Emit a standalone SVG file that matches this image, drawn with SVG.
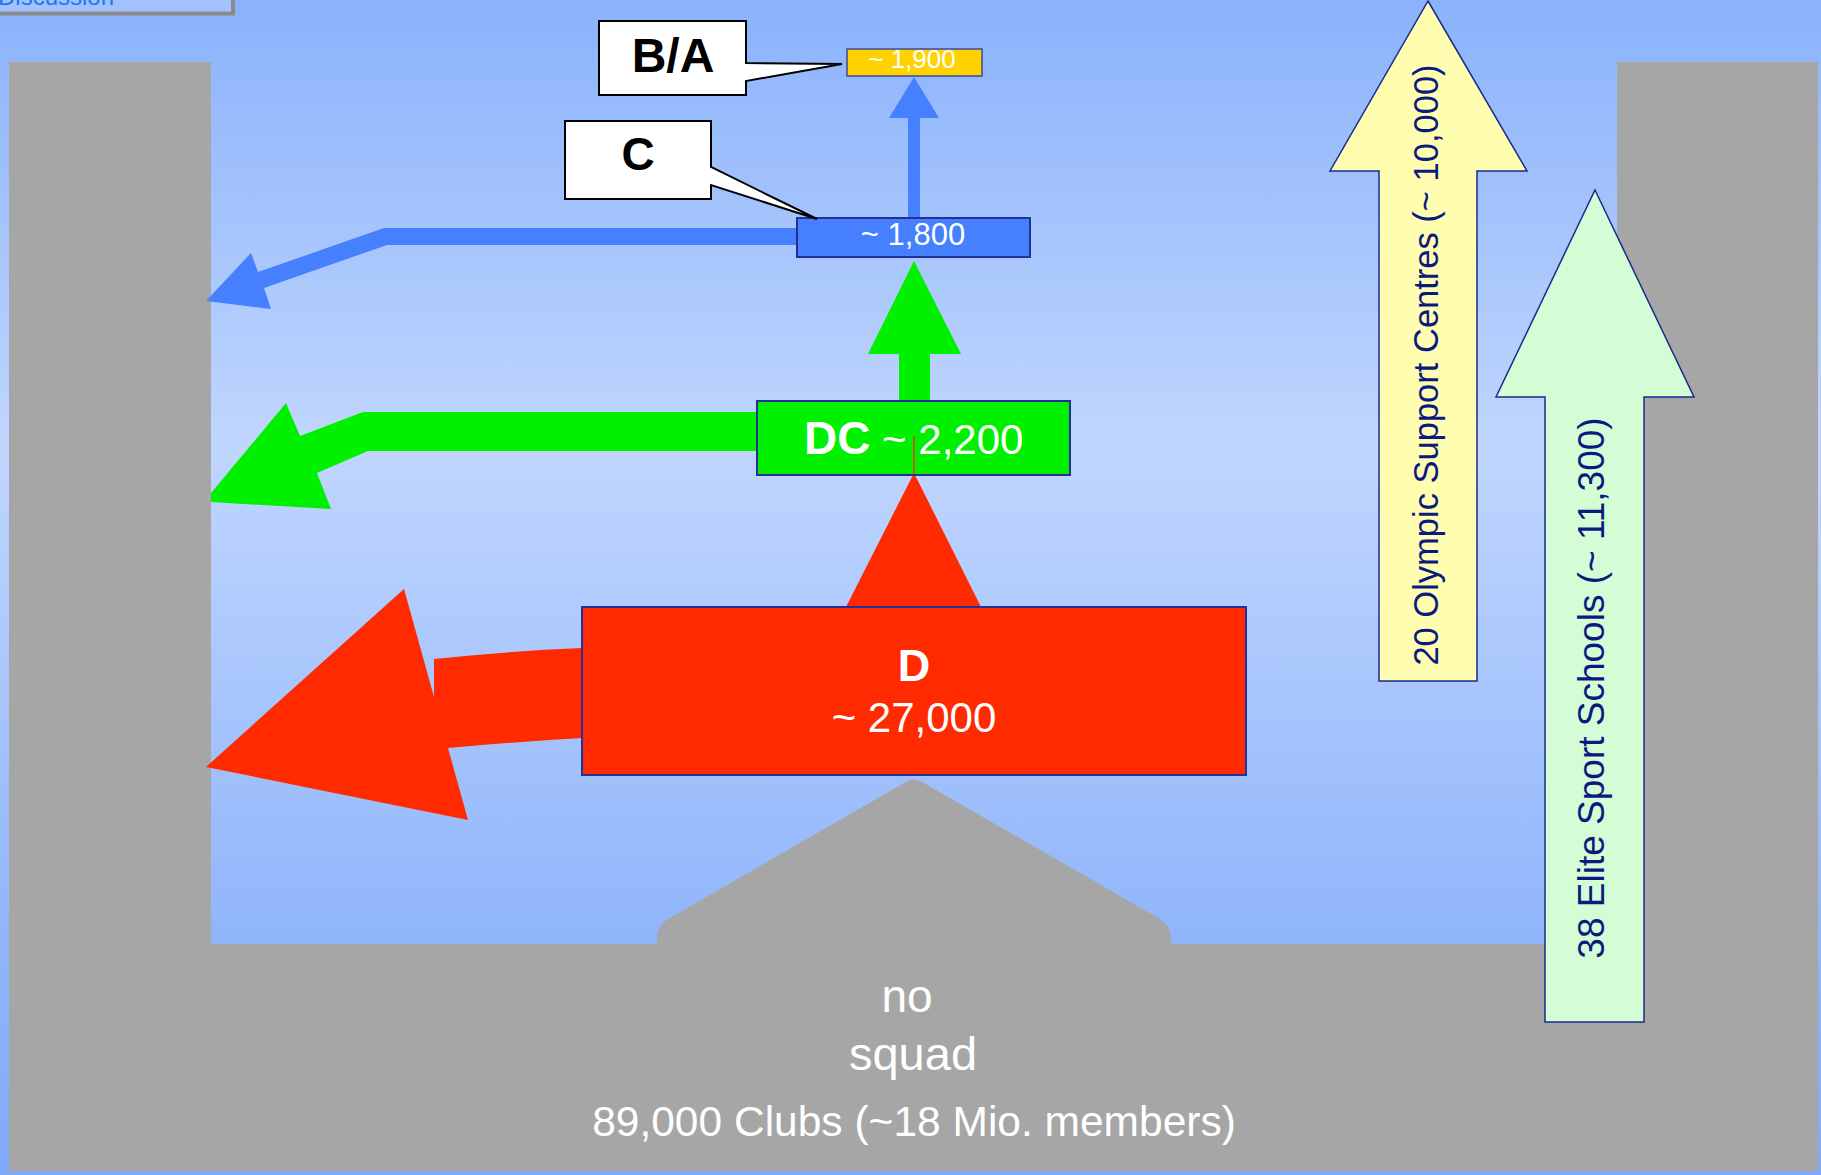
<svg xmlns="http://www.w3.org/2000/svg" width="1821" height="1175" viewBox="0 0 1821 1175">
  <defs>
    <linearGradient id="sky" x1="0" y1="0" x2="0" y2="1">
      <stop offset="0" stop-color="#8ab2fb"/>
      <stop offset="0.38" stop-color="#c0d6fe"/>
      <stop offset="0.8" stop-color="#90b5fb"/>
      <stop offset="1" stop-color="#80aafa"/>
    </linearGradient>
  </defs>
  <style>
    text { font-family: "Liberation Sans", Arial, sans-serif; }
    .box { stroke: #22309a; stroke-width: 2; }
    .callout { fill: #ffffff; stroke: #000000; stroke-width: 2; }
    .white { fill: #ffffff; }
    .bold { font-weight: bold; }
    .navy { fill: #0b1a80; }
    .pillar { stroke: #1a2a8c; stroke-width: 1.5; }
  </style>

  <!-- sky background -->
  <rect x="0" y="0" width="1821" height="1175" fill="url(#sky)"/>

  <!-- navigation button at the top-left corner -->
  <g id="nav-discussion">
    <rect x="-10" y="-10" width="243" height="23.5" fill="#a3c1fc" stroke="#8a8a8a" stroke-width="4"/>
    <text x="-2" y="5" font-size="24" fill="#1c78f2">Discussion</text>
  </g>

  <!-- grey basin with the club mountain in the middle -->
  <g id="basin">
    <path d="M9,62 H211 V944 H657 V936 Q658,926 668,919 L904,783 Q914,776 924,783 L1160,919 Q1170,926 1171,936 V944 H1617 V62 H1818 V1171 H9 Z" fill="#a6a6a6"/>
    <text x="907" y="1012" font-size="46" text-anchor="middle" class="white">no</text>
    <text x="913" y="1070" font-size="47" text-anchor="middle" class="white">squad</text>
    <text x="914" y="1136" font-size="42.5" text-anchor="middle" class="white">89,000 Clubs (~18 Mio. members)</text>
  </g>

  <!-- side pillars -->
  <g id="olympic-centres">
    <polygon class="pillar" points="1428,1 1527,171 1477,171 1477,681 1379,681 1379,171 1330,171" fill="#fffdb0"/>
    <text transform="translate(1438,365) rotate(-90)" font-size="34.5" text-anchor="middle" class="navy">20 Olympic Support Centres (~ 10,000)</text>
  </g>
  <g id="elite-schools">
    <polygon class="pillar" points="1595,190 1694,397 1644,397 1644,1022 1545,1022 1545,397 1496,397" fill="#d5fdd5"/>
    <text transform="translate(1604,688) rotate(-90)" font-size="37" text-anchor="middle" class="navy">38 Elite Sport Schools (~ 11,300)</text>
  </g>

  <!-- flows between squads and out of the system -->
  <g id="connectors">
    <!-- D: up to DC, and drop-out to the left -->
    <polygon points="846,607 914,473 981,607" fill="#ff2a00"/>
    <path d="M206,767 L404,589 L434,697 L434,659 Q510,651 582,648 L582,738 Q512,742 448,748 L468,820 Z" fill="#ff2a00"/>
    <!-- DC: up to C, and drop-out to the left -->
    <polygon points="899,401 899,354 868,354 914,261 961,354 930,354 930,401" fill="#00f000"/>
    <polygon points="757,412 363,412 300,436 286,403 211,493 211,502 331,509 317,473 368,451 757,451" fill="#00f000"/>
    <!-- C: up to B/A, and drop-out to the left -->
    <polygon points="908,218 908,118 889,118 914,77 939,118 920,118 920,218" fill="#4680ff"/>
    <polygon points="797,228 384,228 258,272 251,253 206,301 271,309 264,288 387,245 797,245" fill="#4680ff"/>
  </g>

  <!-- squad levels -->
  <g id="node-d">
    <rect class="box" x="582" y="607" width="664" height="168" fill="#ff2a00"/>
    <text x="914" y="681" font-size="45" text-anchor="middle" class="white bold">D</text>
    <text x="914" y="732" font-size="42" text-anchor="middle" class="white">~ 27,000</text>
  </g>
  <g id="node-dc">
    <rect class="box" x="757" y="401" width="313" height="74" fill="#00f000"/>
    <line x1="914" y1="436" x2="914" y2="474" stroke="#e83a10" stroke-width="1.5"/>
    <text x="804" y="454" class="white"><tspan font-size="46" class="bold">DC</tspan><tspan font-size="42"> ~ 2,200</tspan></text>
  </g>
  <g id="node-c">
    <rect class="box" x="797" y="218" width="233" height="39" fill="#4680ff"/>
    <text x="913" y="245" font-size="31" text-anchor="middle" class="white">~ 1,800</text>
  </g>
  <g id="node-ba">
    <rect x="847" y="49" width="135" height="27" fill="#ffd200" stroke="#3a4a9a" stroke-width="1.5"/>
    <text x="912" y="68" font-size="26" text-anchor="middle" class="white">~ 1,900</text>
  </g>

  <!-- level callouts -->
  <g id="callout-ba">
    <path class="callout" d="M599,21 H746 V63 L842,64 L746,81 V95 H599 Z"/>
    <text x="673" y="72" font-size="48" text-anchor="middle" class="bold">B/A</text>
  </g>
  <g id="callout-c">
    <path class="callout" d="M565,121 H711 V167 L817,219 L711,185 V199 H565 Z"/>
    <text x="638" y="170" font-size="46" text-anchor="middle" class="bold">C</text>
  </g>
</svg>
